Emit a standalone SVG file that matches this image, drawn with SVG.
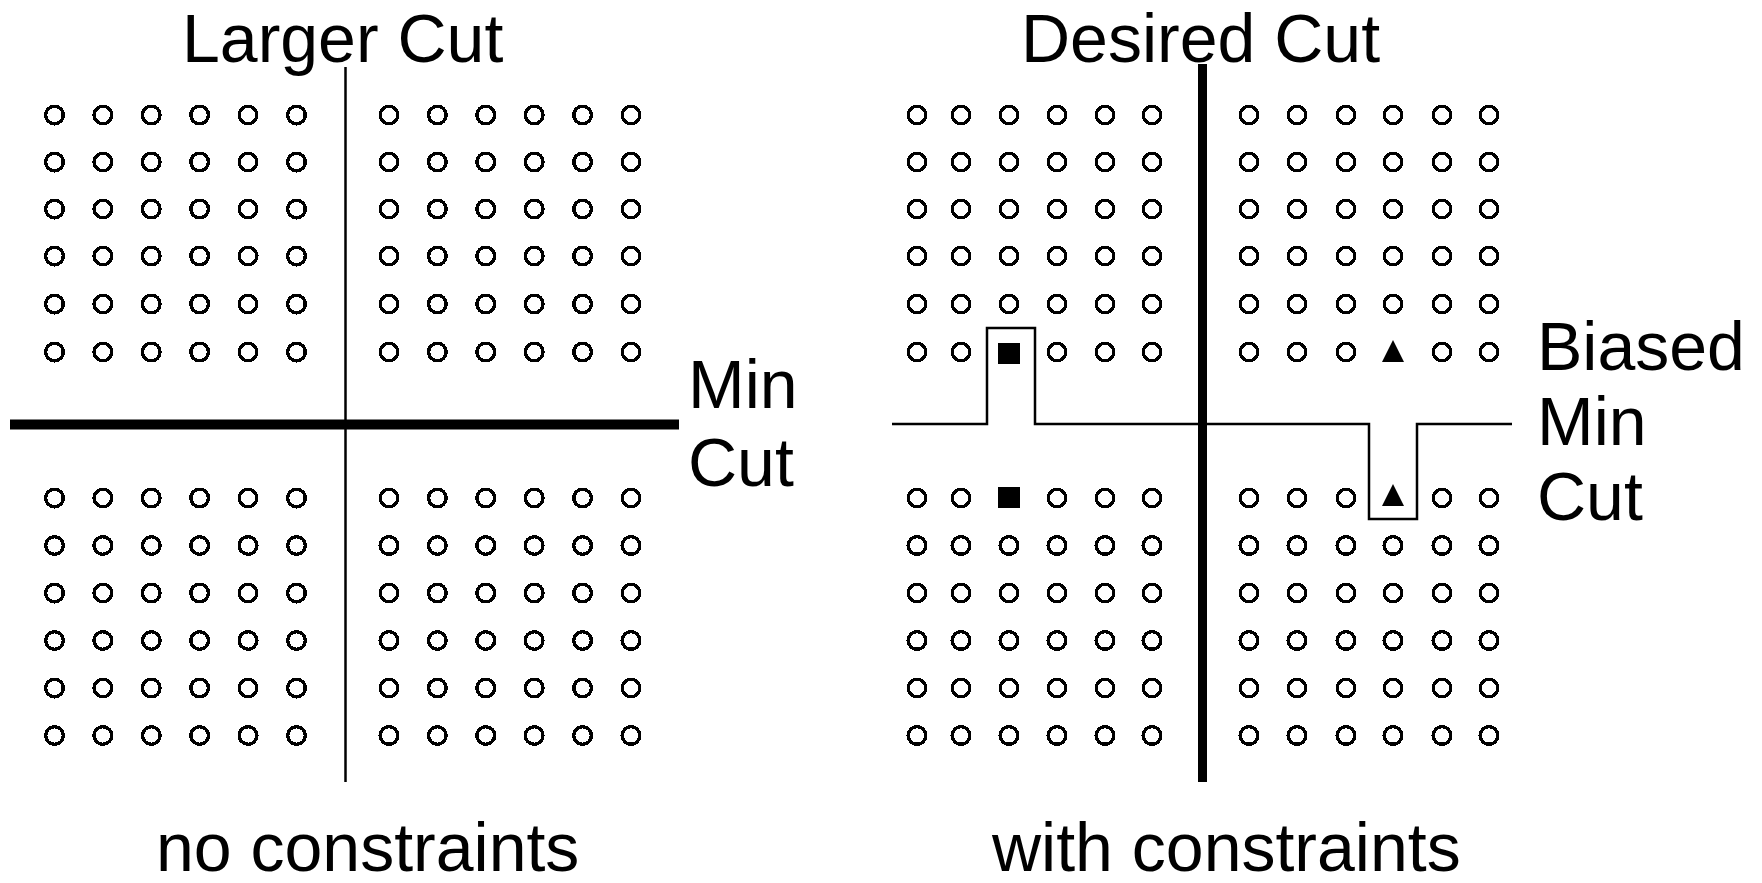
<svg xmlns="http://www.w3.org/2000/svg" width="1762" height="883" viewBox="0 0 1762 883">
  <style>
    .cell { fill: #fff; stroke: #000; stroke-width: 3.4; shape-rendering: crispEdges; }
    .mark { fill: #000; stroke: none; }
    .label { font-family: "Liberation Sans", Arial, Helvetica, sans-serif; font-size: 68px; fill: #000; }
    .thin { fill: none; stroke: #000; stroke-width: 2.5; }
    .thick { fill: none; stroke: #000; stroke-width: 10; }
  </style>
  <defs>
    <circle id="c" r="8.8" class="cell"/>
    <!-- one row of six cells, evenly spaced -->
    <g id="row">
      <use href="#c" x="0"/><use href="#c" x="48.4"/><use href="#c" x="96.8"/>
      <use href="#c" x="145.2"/><use href="#c" x="193.6"/><use href="#c" x="242"/>
    </g>
    <g id="rowA">
      <use href="#c" x="0"/><use href="#c" x="44"/><use href="#c" x="92"/>
      <use href="#c" x="140"/><use href="#c" x="188"/><use href="#c" x="235"/>
    </g>
    <g id="rowB">
      <use href="#c" x="0"/><use href="#c" x="48"/><use href="#c" x="97"/>
      <use href="#c" x="144"/><use href="#c" x="193"/><use href="#c" x="240"/>
    </g>
    <rect id="sq" x="-11" y="-10.5" width="22" height="21" class="mark"/>
    <polygon id="tri" points="0,-11 11,11 -11,11" class="mark"/>
  </defs>
  <rect width="1762" height="883" fill="#fff"/>

  <!-- left panel: unconstrained partition -->
  <g id="left-top-left">
    <use href="#row" x="54.5" y="115"/><use href="#row" x="54.5" y="162"/>
    <use href="#row" x="54.5" y="209"/><use href="#row" x="54.5" y="256"/>
    <use href="#row" x="54.5" y="304"/><use href="#row" x="54.5" y="352"/>
  </g>
  <g id="left-top-right">
    <use href="#row" x="389" y="115"/><use href="#row" x="389" y="162"/>
    <use href="#row" x="389" y="209"/><use href="#row" x="389" y="256"/>
    <use href="#row" x="389" y="304"/><use href="#row" x="389" y="352"/>
  </g>
  <g id="left-bottom-left">
    <use href="#row" x="54.5" y="498"/><use href="#row" x="54.5" y="545.5"/>
    <use href="#row" x="54.5" y="593"/><use href="#row" x="54.5" y="640.5"/>
    <use href="#row" x="54.5" y="688"/><use href="#row" x="54.5" y="735.5"/>
  </g>
  <g id="left-bottom-right">
    <use href="#row" x="389" y="498"/><use href="#row" x="389" y="545.5"/>
    <use href="#row" x="389" y="593"/><use href="#row" x="389" y="640.5"/>
    <use href="#row" x="389" y="688"/><use href="#row" x="389" y="735.5"/>
  </g>

  <!-- right panel: constrained partition -->
  <g id="right-top-left">
    <use href="#rowA" x="917" y="115"/><use href="#rowA" x="917" y="162"/>
    <use href="#rowA" x="917" y="209"/><use href="#rowA" x="917" y="256"/>
    <use href="#rowA" x="917" y="304"/>
    <use href="#c" x="917" y="352"/><use href="#c" x="961" y="352"/>
    <use href="#c" x="1057" y="352"/><use href="#c" x="1105" y="352"/><use href="#c" x="1152" y="352"/>
  </g>
  <g id="right-top-right">
    <use href="#rowB" x="1249" y="115"/><use href="#rowB" x="1249" y="162"/>
    <use href="#rowB" x="1249" y="209"/><use href="#rowB" x="1249" y="256"/>
    <use href="#rowB" x="1249" y="304"/>
    <use href="#c" x="1249" y="352"/><use href="#c" x="1297" y="352"/><use href="#c" x="1346" y="352"/>
    <use href="#c" x="1442" y="352"/><use href="#c" x="1489" y="352"/>
  </g>
  <g id="right-bottom-left">
    <use href="#c" x="917" y="498"/><use href="#c" x="961" y="498"/>
    <use href="#c" x="1057" y="498"/><use href="#c" x="1105" y="498"/><use href="#c" x="1152" y="498"/>
    <use href="#rowA" x="917" y="545.5"/><use href="#rowA" x="917" y="593"/>
    <use href="#rowA" x="917" y="640.5"/><use href="#rowA" x="917" y="688"/>
    <use href="#rowA" x="917" y="735.5"/>
  </g>
  <g id="right-bottom-right">
    <use href="#c" x="1249" y="498"/><use href="#c" x="1297" y="498"/><use href="#c" x="1346" y="498"/>
    <use href="#c" x="1442" y="498"/><use href="#c" x="1489" y="498"/>
    <use href="#rowB" x="1249" y="545.5"/><use href="#rowB" x="1249" y="593"/>
    <use href="#rowB" x="1249" y="640.5"/><use href="#rowB" x="1249" y="688"/>
    <use href="#rowB" x="1249" y="735.5"/>
  </g>

  <!-- constrained cells -->
  <g id="square-top"><use href="#sq" x="1009" y="353.5"/></g>
  <g id="square-bottom"><use href="#sq" x="1009" y="497.5"/></g>
  <g id="triangle-top"><use href="#tri" x="1393" y="351"/></g>
  <g id="triangle-bottom"><use href="#tri" x="1393" y="495"/></g>

  <!-- cut lines -->
  <g id="cuts">
    <line class="thin" x1="345.5" y1="67" x2="345.5" y2="782"/>
    <line class="thick" x1="10" y1="424.5" x2="679" y2="424.5"/>
    <line class="thick" style="stroke-width:9" x1="1202.5" y1="64" x2="1202.5" y2="782"/>
    <path class="thin" d="M892 424 H987 V328 H1035 V424 H1369 V519 H1417 V424 H1512"/>
  </g>

  <!-- labels -->
  <g id="labels">
    <text class="label" x="182" y="62">Larger Cut</text>
    <text class="label" x="1021" y="62">Desired Cut</text>
    <text class="label" x="688" y="408">Min</text>
    <text class="label" x="688" y="486">Cut</text>
    <text class="label" x="1537" y="370">Biased</text>
    <text class="label" x="1537" y="445">Min</text>
    <text class="label" x="1537" y="520">Cut</text>
    <text class="label" x="156" y="871">no constraints</text>
    <text class="label" x="992" y="871">with constraints</text>
  </g>
</svg>
